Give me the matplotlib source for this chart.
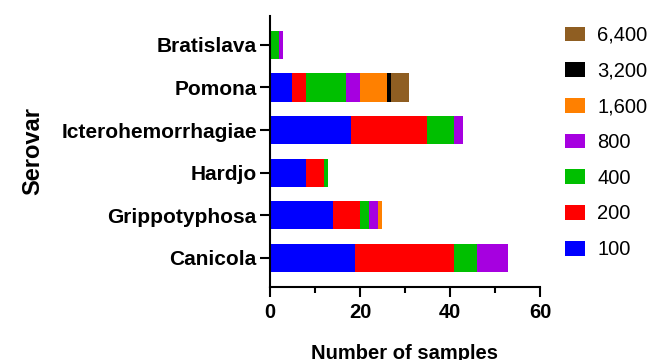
import numpy as np
import matplotlib.pyplot as plt

plt.rcParams['font.family'] = ['Liberation Sans', 'DejaVu Sans']

serovars = ['Canicola', 'Grippotyphosa', 'Hardjo', 'Icterohemorrhagiae', 'Pomona', 'Bratislava']
titers = ['100', '200', '400', '800', '1,600', '3,200', '6,400']
colors = ['#0000ff', '#ff0000', '#00bf00', '#a600e0', '#ff8000', '#000000', '#8f5e22']

# counts per titer, in serovar order
t100 = [19, 14, 8, 18, 5, 0]
t200 = [22, 6, 4, 17, 3, 0]
t400 = [5, 2, 1, 6, 9, 2]
t800 = [7, 2, 0, 2, 3, 1]
t1600 = [0, 1, 0, 0, 6, 0]
t3200 = [0, 0, 0, 0, 1, 0]
t6400 = [0, 0, 0, 0, 4, 0]
series = [t100, t200, t400, t800, t1600, t3200, t6400]

fig = plt.figure(figsize=(6.51, 3.6), dpi=100)
ax = fig.add_axes([0.4147, 0.203, 0.4147, 0.753])

y = np.arange(len(serovars))
left = np.zeros(len(serovars))
handles = []
for vals, c, lab in zip(series, colors, titers):
    vals = np.array(vals, dtype=float)
    h = ax.barh(y, vals, left=left, height=0.66, color=c, label=lab, linewidth=0)
    handles.append(h)
    left += vals

ax.set_xlim(0, 60)
ax.set_ylim(-0.68, 5.68)
ax.set_yticks(y, serovars, fontsize=15, fontweight='bold')
ax.set_xticks([0, 20, 40, 60], ['0', '20', '40', '60'], fontsize=14.5, fontweight='bold')
ax.set_xticks([10, 30, 50], minor=True)
ax.tick_params(axis='x', which='major', width=1.5, length=7.5, pad=4)
ax.tick_params(axis='x', which='minor', width=1.5, length=4)
ax.tick_params(axis='y', width=1.5, length=7.5, pad=2)
ax.spines['top'].set_visible(False)
ax.spines['right'].set_visible(False)
ax.spines['left'].set_linewidth(1.5)
ax.spines['bottom'].set_linewidth(1.5)

ax.set_xlabel('Number of samples', fontsize=14.5, fontweight='bold', labelpad=16)
ax.set_ylabel('Serovar', fontsize=17, fontweight='bold', labelpad=12)

ax.legend(handles[::-1], titers[::-1], loc='upper left',
          bbox_to_anchor=(565 / 651, 0.928), bbox_transform=fig.transFigure,
          frameon=False, fontsize=14.5, handlelength=1.0, handleheight=0.75,
          labelspacing=0.83, handletextpad=0.6, borderpad=0, borderaxespad=0)

fig.savefig('out.png', dpi=100)
